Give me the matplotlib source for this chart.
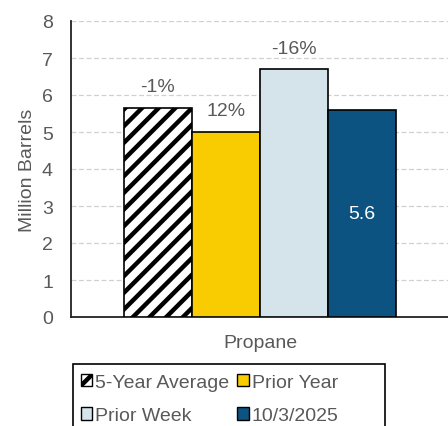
import numpy as np
import matplotlib
matplotlib.use('Agg')
import matplotlib.pyplot as plt
from matplotlib.patches import Patch, Rectangle

plt.rcParams['font.family'] = ['Liberation Sans', 'DejaVu Sans']
plt.rcParams['hatch.linewidth'] = 3.2

category = 'Propane'
series = ['5-Year Average', 'Prior Year', 'Prior Week', '10/3/2025']
values = [5.66, 5.0, 6.7, 5.6]
pct_labels = ['-1%', '12%', '-16%', '']
colors = ['white', '#F8CC00', '#D5E3EB', '#0C5381']
hatches = ['//', None, None, None]

grey = '#595959'
fs = 14

fig = plt.figure(figsize=(4.48, 4.27), dpi=100)
ax = fig.add_axes([71 / 448, 1 - 318 / 427, 378 / 448, 296 / 427])

width = 0.18
x = (np.arange(len(values)) - 1.5) * width
bars = ax.bar(x, values, width, color=colors, edgecolor='black', linewidth=1.2, zorder=3)
for b, h in zip(bars, hatches):
    if h:
        b.set_hatch(h)

for b, lab in zip(bars, pct_labels):
    if lab:
        ax.annotate(lab, (b.get_x() + b.get_width() / 2, b.get_height()),
                    xytext=(0, 9), textcoords='offset points', ha='center',
                    va='bottom', fontsize=fs, color=grey)
last = bars[-1]
ax.text(last.get_x() + last.get_width() / 2, last.get_height() / 2, '%.1f' % values[-1],
        ha='center', va='center', color='white', fontsize=fs)

ax.set_xlim(-0.5, 0.5)
ax.set_ylim(0, 8)
ax.set_yticks(range(0, 9))
ax.set_xticks([0])
ax.set_xticklabels([category])
ax.tick_params(length=0, labelsize=fs, labelcolor=grey, pad=13)
ax.tick_params(axis='x', pad=12)
ax.set_ylabel('Million Barrels', fontsize=fs, color=grey, labelpad=4)
ax.yaxis.grid(True, linestyle=(0, (4, 2)), color='#D0D0D0', linewidth=0.9, zorder=0)
ax.set_axisbelow(True)
for s in ['top', 'right']:
    ax.spines[s].set_visible(False)
ax.spines['left'].set_color('#222222')
ax.spines['bottom'].set_color('#222222')
ax.spines['left'].set_linewidth(1.3)
ax.spines['bottom'].set_linewidth(1.3)

# legend fills column-wise, so reorder to read row by row
order = [0, 2, 1, 3]
handles = [Patch(facecolor=colors[i], edgecolor='black', hatch=hatches[i], linewidth=1.0)
           for i in order]
labels = [series[i] for i in order]
leg = fig.legend(handles, labels, loc='upper left', ncol=2,
                 bbox_to_anchor=(74 / 448, 1 - 368 / 427), fontsize=fs,
                 frameon=False,
                 handlelength=0.6, handleheight=0.6, handletextpad=0.15,
                 columnspacing=0.4, borderpad=0.35, labelspacing=0.85,
                 borderaxespad=0)
for t in leg.get_texts():
    t.set_color(grey)

# legend box, wider than the entries and running past the bottom edge
fig.patches.append(Rectangle((73 / 448, -0.1), 312 / 448, 0.1 + (427 - 365) / 427,
                             transform=fig.transFigure, fill=False,
                             edgecolor='black', linewidth=1.2))

fig.savefig('out.png', dpi=100)
